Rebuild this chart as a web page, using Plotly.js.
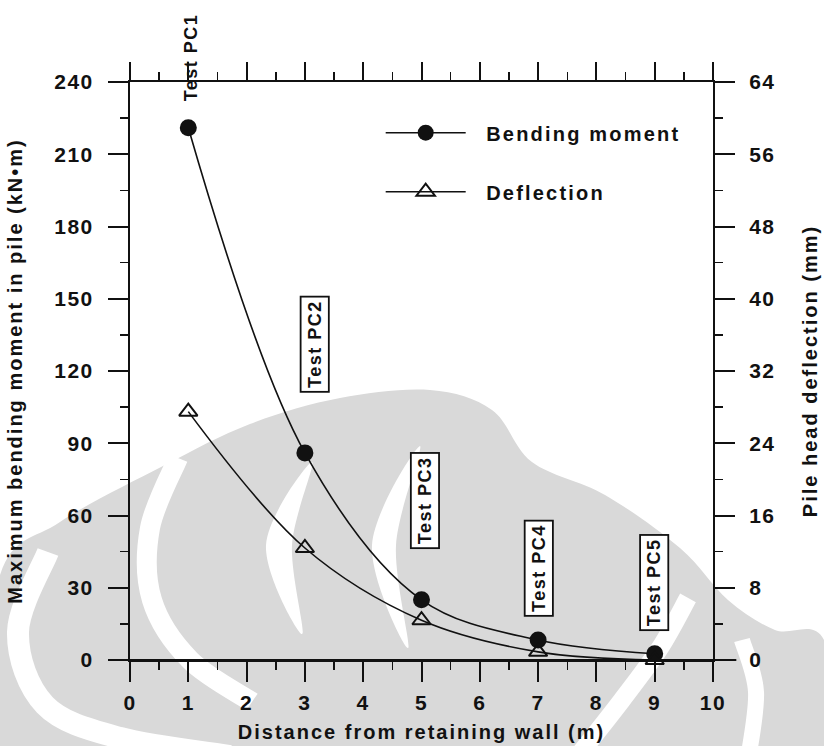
<!DOCTYPE html>
<html>
<head>
<meta charset="utf-8">
<script src="https://cdn.plot.ly/plotly-3.0.1.min.js"></script>
<style>
  html, body { margin: 0; padding: 0; background: #ffffff; }
  #chart { width: 824px; height: 746px; }
  .xtitle, .ytitle, .y2title { letter-spacing: 2px; }
  .xtick text, .ytick text, .y2tick text { letter-spacing: 1.5px; }
  .legendtext { letter-spacing: 2.2px; }
  .annotation-text { letter-spacing: 1.5px; }
</style>
</head>
<body>
<div id="chart"></div>
<script>
// ---- data ----
const distance = [1, 3, 5, 7, 9];                 // m
const bendingMoment = [221, 86, 25, 8.3, 2.6];    // kN·m
const deflection = [27.5, 12.4, 4.4, 0.9, 0.0];   // mm
const testLabels = ['Test PC1', 'Test PC2', 'Test PC3', 'Test PC4', 'Test PC5'];
const xTickVals = [0, 1, 2, 3, 4, 5, 6, 7, 8, 9, 10];
const yLeftTicks = [0, 30, 60, 90, 120, 150, 180, 210, 240];
const yRightTicks = [0, 8, 16, 24, 32, 40, 48, 56, 64];
const seriesNames = ['Bending moment', 'Deflection'];

// label placement (layout only)
const labelX = [1.05, 3.16, 5.06, 7.02, 8.99];
const labelY = [null, 131, 66, 38, 32];
const labelBoxed = [false, true, true, true, true];

const FONT = 'Liberation Sans, Arial, Helvetica, sans-serif';
const INK = '#111111';
const WM = '#d9d9d9';

// ---- faint background watermark (decoration, page pixel outline) ----
const L = 130, R = 713, T = 82, B = 660;
const px = (x, y) => [((x - L) / (R - L)).toFixed(4), ((B - y) / (B - T)).toFixed(4)];
function smooth(pts, closed) {
  const p = pts.map(q => q.slice());
  const n = p.length;
  const get = i => closed ? p[(i + n) % n] : p[Math.max(0, Math.min(n - 1, i))];
  let d = 'M' + px(p[0][0], p[0][1]).join(',');
  const segs = closed ? n : n - 1;
  for (let i = 0; i < segs; i++) {
    const p0 = get(i - 1), p1 = get(i), p2 = get(i + 1), p3 = get(i + 2);
    const c1 = [p1[0] + (p2[0] - p0[0]) / 6, p1[1] + (p2[1] - p0[1]) / 6];
    const c2 = [p2[0] - (p3[0] - p1[0]) / 6, p2[1] - (p3[1] - p1[1]) / 6];
    d += ' C' + px(c1[0], c1[1]).join(',') + ' ' + px(c2[0], c2[1]).join(',') + ' ' + px(p2[0], p2[1]).join(',');
  }
  return closed ? d + ' Z' : d;
}
const blob = [[0, 575], [60, 522], [163, 466], [250, 424], [340, 398], [430, 390], [492, 410],
              [532, 462], [605, 495], [680, 548], [728, 600], [775, 630], [824, 640],
              [840, 760], [-20, 760]];
const whiteArcs = [
  { pts: [[48, 552], [18, 632], [45, 705], [120, 738], [230, 756]], w: 22 },
  { pts: [[178, 458], [150, 528], [152, 600], [190, 660], [252, 702]], w: 20 },
  { pts: [[578, 756], [622, 700], [660, 648], [688, 598]], w: 18 },
  { pts: [[748, 760], [756, 692], [742, 640]], w: 16 }
];
const whiteLeaves = [
  [[312, 462], [266, 545], [302, 634], [292, 545]],
  [[420, 446], [372, 545], [408, 648], [396, 545]]
];
const wmShapes = [
  { type: 'path', xref: 'paper', yref: 'paper', path: smooth(blob, true),
    fillcolor: WM, line: { width: 0 }, layer: 'below' }
].concat(whiteArcs.map(a => ({
  type: 'path', xref: 'paper', yref: 'paper', path: smooth(a.pts, false),
  line: { color: '#ffffff', width: a.w }, layer: 'below'
}))).concat(whiteLeaves.map(p => ({
  type: 'path', xref: 'paper', yref: 'paper', path: smooth(p, true),
  fillcolor: '#ffffff', line: { width: 0 }, layer: 'below'
})));

const traces = [
  {
    x: distance, y: bendingMoment,
    name: '\u00a0\u00a0' + seriesNames[0],
    type: 'scatter', mode: 'lines+markers',
    line: { color: INK, width: 1.6, shape: 'spline', smoothing: 1 },
    marker: { symbol: 'circle', size: 17, color: INK },
    legendgroup: 'a',
    cliponaxis: false,
    xaxis: 'x', yaxis: 'y'
  },
  {
    x: distance, y: deflection,
    name: '\u00a0\u00a0' + seriesNames[1],
    type: 'scatter', mode: 'lines+markers',
    line: { color: INK, width: 1.6, shape: 'spline', smoothing: 1 },
    marker: { symbol: 'triangle-up-open', size: 16, color: INK, line: { color: INK, width: 2 } },
    legendgroup: 'b',
    cliponaxis: false,
    xaxis: 'x2', yaxis: 'y2'
  }
];

const tickFont = { family: FONT, size: 21, color: INK, weight: 'bold' };
const titleFont = { family: FONT, size: 20, color: INK, weight: 'bold' };

const annotations = testLabels.map((t, i) => ({
  x: labelX[i],
  y: labelY[i] === null ? 1.043 : labelY[i],
  xref: 'x', yref: labelY[i] === null ? 'paper' : 'y',
  xanchor: 'center', yanchor: 'middle',
  text: t, showarrow: false, textangle: -90,
  font: { family: FONT, size: 18, color: INK, weight: 'bold' },
  bordercolor: labelBoxed[i] ? INK : 'rgba(0,0,0,0)',
  borderwidth: labelBoxed[i] ? 1.8 : 0,
  borderpad: 3,
  bgcolor: labelBoxed[i] ? '#ffffff' : 'rgba(0,0,0,0)'
}));

const layout = {
  width: 824, height: 746,
  margin: { l: 130, r: 111, t: 82, b: 86 },
  paper_bgcolor: '#ffffff', plot_bgcolor: 'rgba(0,0,0,0)',
  font: { family: FONT, color: INK },
  showlegend: true,
  legend: {
    x: 0.43, y: 0.946, xanchor: 'left', yanchor: 'top',
    bgcolor: 'rgba(0,0,0,0)', borderwidth: 0,
    font: { family: FONT, size: 20, color: INK, weight: 'bold' },
    traceorder: 'grouped', tracegroupgap: 30, itemwidth: 80
  },
  xaxis: {
    range: [0, 10], tickvals: xTickVals, ticks: 'outside', ticklen: 20, tickwidth: 2, tickcolor: INK,
    minor: { dtick: 0.5, ticks: 'outside', ticklen: 8, tickwidth: 1.5, tickcolor: INK, showgrid: false },
    showline: true, linecolor: INK, linewidth: 2, showgrid: false, zeroline: false,
    tickfont: tickFont, ticklabelstandoff: 3,
    title: { text: 'Distance from retaining wall (m)', font: titleFont, standoff: 12 }
  },
  xaxis2: {
    overlaying: 'x', side: 'top', range: [0, 10], tickvals: xTickVals,
    ticks: 'outside', ticklen: 18, tickwidth: 2, tickcolor: INK,
    minor: { dtick: 0.5, ticks: 'outside', ticklen: 8, tickwidth: 1.5, tickcolor: INK, showgrid: false },
    showticklabels: false, showline: true, linecolor: INK, linewidth: 2,
    showgrid: false, zeroline: false
  },
  yaxis: {
    range: [0, 240], tickvals: yLeftTicks, ticks: 'outside', ticklen: 20, tickwidth: 2, tickcolor: INK,
    minor: { dtick: 15, ticks: 'outside', ticklen: 8, tickwidth: 1.5, tickcolor: INK, showgrid: false },
    showline: true, linecolor: INK, linewidth: 2, showgrid: false, zeroline: false,
    tickfont: tickFont, ticklabelstandoff: 10,
    title: { text: 'Maximum bending moment in pile (kN•m)', font: titleFont, standoff: 26 }
  },
  yaxis2: {
    overlaying: 'y', side: 'right', range: [0, 64], tickvals: yRightTicks,
    ticks: 'outside', ticklen: 20, tickwidth: 2, tickcolor: INK,
    minor: { dtick: 4, ticks: 'outside', ticklen: 8, tickwidth: 1.5, tickcolor: INK, showgrid: false },
    showline: true, linecolor: INK, linewidth: 2, showgrid: false, zeroline: false,
    tickfont: tickFont, ticklabelstandoff: 10,
    title: { text: 'Pile head deflection (mm)', font: titleFont, standoff: 28 }
  },
  shapes: wmShapes.concat([
    { type: 'line', xref: 'paper', yref: 'paper', x0: -0.035, x1: 1.04, y0: 0, y1: 0,
      line: { color: INK, width: 2 }, layer: 'above' }
  ]),
  annotations: annotations
};

Plotly.newPlot('chart', traces, layout, { displayModeBar: false, staticPlot: true });
</script>
</body>
</html>
